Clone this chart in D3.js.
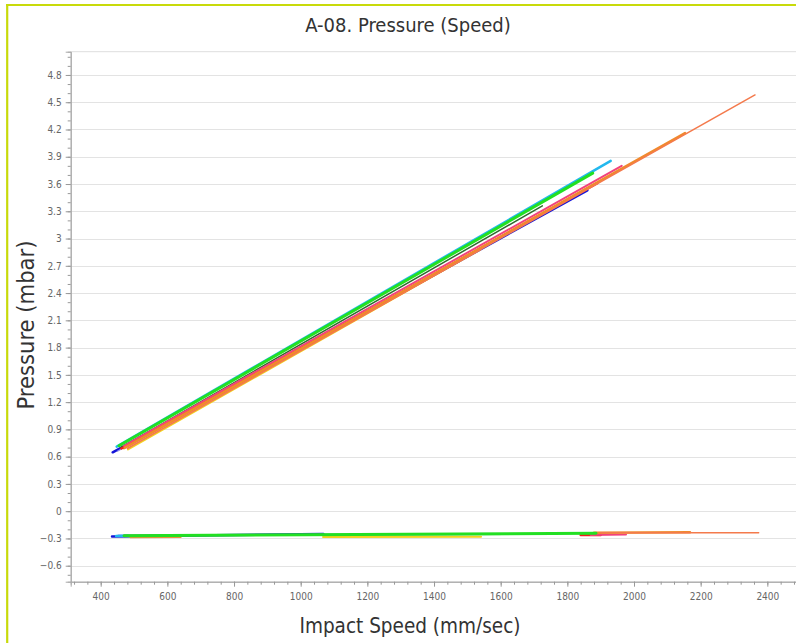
<!DOCTYPE html>
<html>
<head>
<meta charset="utf-8">
<script src="https://cdn.jsdelivr.net/npm/d3@7"></script>
<style>
  body { margin: 0; background: #fff; }
  svg { display: block; font-family: "DejaVu Sans Condensed", "DejaVu Sans", sans-serif; }
</style>
</head>
<body>
<script>
// --- data ---
var runNames   = ['yellow', 'blue', 'lavender', 'cyan', 'darkgreen', 'amber', 'red', 'pink', 'orange', 'salmon', 'lime'];
var runColors  = ['#f2d21e', '#1414d8', '#8f8ff0', '#22b8ee', '#2e6b2e', '#e8923a', '#f01c1c', '#f2427c', '#f08a2c', '#f47a4c', '#22e022'];
var runWidths  = [2, 2.5, 1.2, 2.5, 1.5, 2, 2.5, 2, 2.5, 1.5, 3];
// upper branch: [speed, pressure] start / end
var upStart    = [[482, 0.68], [436, 0.648], [450, 0.66], [448, 0.71], [460, 0.70], [470, 0.69], [462, 0.69], [470, 0.72], [472, 0.70], [480, 0.69], [455, 0.72]];
var upEnd      = [[1480, 2.76], [1860, 3.53], [1528, 2.86], [1930, 3.855], [1725, 3.36], [1540, 2.88], [1890, 3.61], [1963, 3.80], [2153, 4.16], [2363, 4.58], [1876, 3.72]];
// lower branch: [speed, pressure] start / end
var lowStart   = [[1067, -0.284], [434, -0.278], [452, -0.262], [446, -0.272], [470, -0.268], [489, -0.286], [1840, -0.262], [1870, -0.262], [1880, -0.236], [1900, -0.238], [470, -0.270]];
var lowEnd     = [[1541, -0.282], [1068, -0.252], [1492, -0.248], [482, -0.270], [1725, -0.252], [640, -0.285], [1900, -0.262], [1976, -0.258], [2168, -0.232], [2374, -0.236], [1886, -0.244]];

var xTicks     = [400, 600, 800, 1000, 1200, 1400, 1600, 1800, 2000, 2200, 2400];
var yTicks     = [-0.6, -0.3, 0, 0.3, 0.6, 0.9, 1.2, 1.5, 1.8, 2.1, 2.4, 2.7, 3, 3.3, 3.6, 3.9, 4.2, 4.5, 4.8];

var chartTitle = 'A-08. Pressure (Speed)';
var xTitle     = 'Impact Speed (mm/sec)';
var yTitle     = 'Pressure (mbar)';

/**************************************/

var width  = 796,
    height = 643;

// plot box (don't call these top/left: window.top is read-only)
var plotL = 70.7, plotR = 796, plotT = 51.7, plotB = 581.7;

var svg = d3.select('body')
    .append('svg')
    .attr('width', width)
    .attr('height', height);

var x = d3.scaleLinear().domain([310, 2486]).range([plotL, plotR]);
var y = d3.scaleLinear().domain([-0.776, 5.056]).range([plotB, plotT]);

// frame (yellow-green border at top and left)
svg.append('line')
    .attr('x1', 6).attr('x2', width).attr('y1', 5).attr('y2', 5)
    .attr('stroke', '#c8da0a').attr('stroke-width', 2.2);
svg.append('line')
    .attr('x1', 7.2).attr('x2', 7.2).attr('y1', 4).attr('y2', height)
    .attr('stroke', '#c8da0a').attr('stroke-width', 2.2);

// title
svg.append('text')
    .attr('x', 408).attr('y', 32)
    .attr('text-anchor', 'middle')
    .attr('font-size', 20)
    .attr('fill', '#333')
    .text(chartTitle);

// plot top border
svg.append('line')
    .attr('x1', plotL).attr('x2', plotR).attr('y1', plotT).attr('y2', plotT)
    .attr('stroke', '#dedede');

// horizontal grid
svg.append('g')
    .selectAll('line')
    .data(yTicks)
    .enter().append('line')
    .attr('x1', plotL).attr('x2', plotR)
    .attr('y1', function(d) { return Math.round(y(d)) + 0.5; })
    .attr('y2', function(d) { return Math.round(y(d)) + 0.5; })
    .attr('stroke', '#e3e3e3');

// y axis
var yAxis = svg.append('g')
    .attr('transform', 'translate(' + plotL + ',0)')
    .call(d3.axisLeft(y).tickValues(yTicks).tickSize(5).tickPadding(4)
        .tickFormat(function(d) { return d3.format('~g')(d); }));
yAxis.append('g')
    .call(d3.axisLeft(y).tickValues(d3.range(-0.7, 5.05, 0.1)).tickSize(3).tickFormat(''));

// x axis
var xAxis = svg.append('g')
    .attr('transform', 'translate(0,' + plotB + ')')
    .call(d3.axisBottom(x).tickValues(xTicks).tickSize(5).tickPadding(6)
        .tickFormat(d3.format('d')));
xAxis.append('g')
    .call(d3.axisBottom(x).tickValues(d3.range(320, 2490, 40)).tickSize(3).tickFormat(''));

svg.selectAll('.domain').attr('stroke', '#aaa');
svg.selectAll('.tick line').attr('stroke', '#999');
svg.selectAll('.tick text')
    .attr('fill', '#666')
    .attr('font-size', 10)
    .attr('font-family', '"DejaVu Sans Condensed", sans-serif');

// axis titles
svg.append('text')
    .attr('x', 410).attr('y', 633)
    .attr('text-anchor', 'middle')
    .attr('font-size', 20.5)
    .attr('fill', '#333')
    .text(xTitle);
svg.append('text')
    .attr('transform', 'translate(34,325) rotate(-90)')
    .attr('text-anchor', 'middle')
    .attr('font-size', 23.5)
    .attr('fill', '#333')
    .text(yTitle);

// series
var line = d3.line()
    .x(function(d) { return x(d[0]); })
    .y(function(d) { return y(d[1]); });

var runs = runNames.map(function(n, i) {
    return {
        name: n, color: runColors[i], w: runWidths[i],
        up: [upStart[i], upEnd[i]],
        low: [lowStart[i], lowEnd[i]]
    };
});

var plot = svg.append('g');

plot.selectAll('path.low')
    .data(runs)
    .enter().append('path')
    .attr('class', 'low')
    .attr('d', function(d) { return line(d.low); })
    .attr('fill', 'none')
    .attr('stroke', function(d) { return d.color; })
    .attr('stroke-width', function(d) { return d.w; })
    .attr('stroke-linecap', 'round');

plot.selectAll('path.up')
    .data(runs)
    .enter().append('path')
    .attr('class', 'up')
    .attr('d', function(d) { return line(d.up); })
    .attr('fill', 'none')
    .attr('stroke', function(d) { return d.color; })
    .attr('stroke-width', function(d) { return d.w; })
    .attr('stroke-linecap', 'round');
</script>
</body>
</html>
